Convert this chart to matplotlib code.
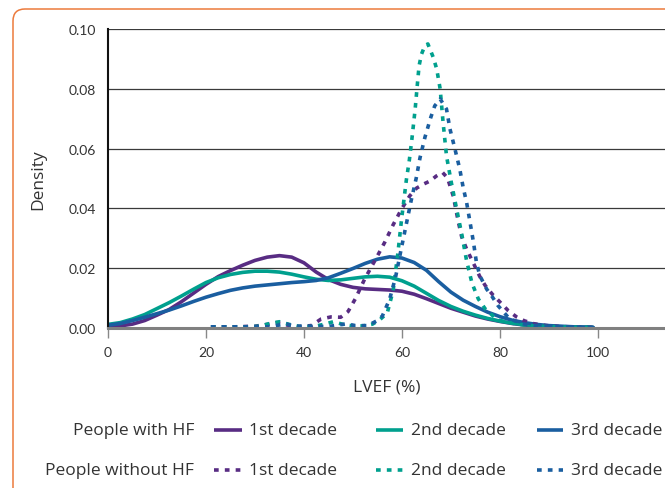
import matplotlib
matplotlib.use("Agg")
import matplotlib.pyplot as plt
from matplotlib.lines import Line2D
from matplotlib.patches import FancyBboxPatch
from matplotlib.transforms import IdentityTransform

plt.rcParams['font.family'] = ['Lato', 'DejaVu Sans']
LABEL_FONT = ['Open Sans', 'DejaVu Sans']

# ---------------- data ----------------
hf1_x = [0, 2.5, 5, 7.5, 10, 12.5, 15, 17.5, 20, 22.5, 25, 27.5, 30, 32.5, 35, 37.5, 40, 42.5, 45, 47.5,
         50, 52.5, 55, 57.5, 60, 62.5, 65, 67.5, 70, 72.5, 75, 77.5, 80, 82.5, 85, 87.5, 90, 95, 99]
hf1_y = [0.0004, 0.0007, 0.0013, 0.0025, 0.0043, 0.0062, 0.0088, 0.0117, 0.0146, 0.0172, 0.0192, 0.0210,
         0.0226, 0.0237, 0.0242, 0.0237, 0.0218, 0.0187, 0.0162, 0.0146, 0.0136, 0.0131, 0.0129, 0.0127,
         0.0123, 0.0113, 0.0098, 0.0082, 0.0066, 0.0053, 0.0040, 0.0030, 0.0022, 0.0015, 0.0010, 0.0007,
         0.0005, 0.0003, 0.0002]

hf2_x = hf1_x
hf2_y = [0.0012, 0.0018, 0.0030, 0.0045, 0.0065, 0.0085, 0.0107, 0.0130, 0.0152, 0.0168, 0.0179, 0.0186,
         0.0190, 0.0190, 0.0187, 0.0180, 0.0171, 0.0163, 0.0159, 0.0161, 0.0166, 0.0171, 0.0173, 0.0170,
         0.0158, 0.0140, 0.0116, 0.0092, 0.0072, 0.0056, 0.0043, 0.0032, 0.0023, 0.0016, 0.0011, 0.0008,
         0.0005, 0.0003, 0.0002]

hf3_x = hf1_x
hf3_y = [0.0009, 0.0015, 0.0025, 0.0036, 0.0048, 0.0060, 0.0074, 0.0089, 0.0103, 0.0115, 0.0126, 0.0134,
         0.0140, 0.0144, 0.0148, 0.0152, 0.0155, 0.0159, 0.0168, 0.0183, 0.0199, 0.0216, 0.0230, 0.0238,
         0.0234, 0.0219, 0.0193, 0.0155, 0.0120, 0.0093, 0.0072, 0.0053, 0.0038, 0.0026, 0.0018, 0.0012,
         0.0008, 0.0004, 0.0002]

nohf1_x = [21, 26, 30, 32.5, 34.5, 36.5, 39, 41.5, 43.5, 45.5, 47.5, 49, 50.5, 52.4, 54.8, 56.5, 58.2, 60,
           61.6, 63, 64.5, 65.8, 67, 68.3, 69.3, 70.5, 71.5, 72.2, 73.2, 74.2, 75.9, 77, 78.5, 80, 81.7,
           83.4, 85, 87, 89.5, 92, 96, 99]
nohf1_y = [0.0004, 0.0004, 0.0006, 0.0012, 0.0018, 0.0010, 0.0005, 0.0008, 0.0030, 0.0037, 0.0036, 0.0055,
           0.0098, 0.0164, 0.0235, 0.0287, 0.0345, 0.0400, 0.0442, 0.0468, 0.0482, 0.0492, 0.0508, 0.0520,
           0.0502, 0.0440, 0.0356, 0.0305, 0.0264, 0.0230, 0.0172, 0.0142, 0.0112, 0.0087, 0.0058, 0.0037,
           0.0024, 0.0014, 0.0008, 0.0005, 0.0003, 0.0002]

nohf2_x = [21, 28, 31, 33, 35, 37, 39, 42, 44, 46, 48, 50, 52, 54, 55.5, 57, 58.2, 59.2, 59.9, 60.9, 61.5,
           62, 62.7, 63.1, 63.5, 64, 64.7, 65.3, 66.4, 67.1, 67.8, 68.4, 69.1, 70.1, 71.2, 72.2, 73.2, 74.3,
           75.6, 77, 79.5, 83.4, 87, 92, 99]
nohf2_y = [0.0004, 0.0004, 0.0006, 0.0015, 0.0021, 0.0012, 0.0005, 0.0005, 0.0012, 0.0021, 0.0012, 0.0007,
           0.0007, 0.0013, 0.0028, 0.0050, 0.0125, 0.0254, 0.0360, 0.0495, 0.0560, 0.0627, 0.0732, 0.0806,
           0.0877, 0.0916, 0.0945, 0.0950, 0.0905, 0.0866, 0.0800, 0.0688, 0.0575, 0.0485, 0.0395, 0.0315,
           0.0225, 0.0150, 0.0097, 0.0064, 0.0027, 0.0013, 0.0007, 0.0004, 0.0002]

nohf3_x = [21, 33, 35, 36.5, 38, 45, 47, 48.7, 50.5, 53, 55, 56, 57.5, 58.7, 59.8, 60.8, 61.8, 62.9, 63.7,
           64.7, 65.9, 66.7, 67.8, 69.1, 69.8, 70.8, 71.8, 72.5, 73.2, 73.9, 74.6, 75.2, 75.9, 77.3, 78.3,
           79.6, 82, 85, 88, 92, 99]
nohf3_y = [0.0004, 0.0004, 0.0010, 0.0013, 0.0006, 0.0005, 0.0010, 0.0014, 0.0008, 0.0008, 0.0025, 0.0040,
           0.0097, 0.0170, 0.0260, 0.0340, 0.0420, 0.0500, 0.0570, 0.0638, 0.0705, 0.0743, 0.0766, 0.0732,
           0.0666, 0.0600, 0.0532, 0.0470, 0.0420, 0.0354, 0.0287, 0.0220, 0.0175, 0.0130, 0.0108, 0.0075,
           0.0030, 0.0013, 0.0007, 0.0004, 0.0002]

decade_labels = ["1st decade", "2nd decade", "3rd decade"]
group_labels = ["People with HF", "People without HF"]
x_ticks = [0, 20, 40, 60, 80, 100]
y_ticks = [0.00, 0.02, 0.04, 0.06, 0.08, 0.10]

colors = ["#582C83", "#00A08E", "#1A5EA0"]
text_color = "#333333"

# ---------------- figure ----------------
fig = plt.figure(figsize=(6.65, 4.89), dpi=100)

# orange rounded frame (cropped by figure edge)
frame = FancyBboxPatch((13, -60), 720, 539, boxstyle="round,pad=0,rounding_size=12",
                       transform=IdentityTransform(), facecolor="none", edgecolor="#EC7A3C",
                       linewidth=1.1, clip_on=False)
fig.patches.append(frame)

ax = fig.add_axes([108 / 665, 1 - 329 / 489, 1 - 108 / 665, (329 - 30) / 489])
ax.set_xlim(0, 113.7)
ax.set_ylim(0, 0.10)

for yv in y_ticks[1:]:
    ax.axhline(yv, color="#3a3a3a", linewidth=0.9, zorder=1)

solid = [(hf1_x, hf1_y), (hf2_x, hf2_y), (hf3_x, hf3_y)]
dotted = [(nohf1_x, nohf1_y), (nohf2_x, nohf2_y), (nohf3_x, nohf3_y)]
for (xs, ys), c in zip(solid, colors):
    ax.plot(xs, ys, color=c, linewidth=2.6, solid_capstyle="round", solid_joinstyle="round", zorder=3)
for (xs, ys), c in zip(dotted, colors):
    ax.plot(xs, ys, color=c, linewidth=2.6, linestyle=(0, (1.3, 1.7)), dash_capstyle="butt", zorder=4)

ax.set_xticks(x_ticks)
ax.set_yticks(y_ticks)
ax.set_yticklabels([f"{v:.2f}" for v in y_ticks])
ax.tick_params(axis="x", direction="out", length=7, width=1, color="#888888", labelsize=10,
               labelcolor=text_color, pad=6)
ax.tick_params(axis="y", length=0, labelsize=10, labelcolor=text_color, pad=9)

for s in ["top", "right"]:
    ax.spines[s].set_visible(False)
ax.spines["left"].set_color("#111111")
ax.spines["left"].set_linewidth(1.5)
ax.spines["bottom"].set_color("#808080")
ax.spines["bottom"].set_linewidth(2.2)
ax.spines["left"].set_zorder(5)
ax.spines["bottom"].set_zorder(5)

ax.set_xlabel("LVEF (%)", fontsize=12.5, color=text_color, labelpad=15, family=LABEL_FONT)
ax.set_ylabel("Density", fontsize=12.5, color=text_color, labelpad=16, family=LABEL_FONT)

# ---------------- legend ----------------
row_y = [1 - 431 / 489, 1 - 471 / 489]
handle_x = [(214, 242), (376, 403), (537, 563)]
label_x = [249, 411, 571]
styles = ["-", (0, (1.3, 1.7))]
for r, (gl, yy) in enumerate(zip(group_labels, row_y)):
    fig.text(194 / 665, yy, gl, ha="right", va="center", fontsize=12.5, color=text_color,
             family=LABEL_FONT)
    for i in range(3):
        x0, x1 = handle_x[i]
        fig.add_artist(Line2D([x0 / 665, x1 / 665], [yy, yy], transform=fig.transFigure,
                              color=colors[i], linewidth=2.6, linestyle=styles[r],
                              solid_capstyle="butt", dash_capstyle="butt"))
        fig.text(label_x[i] / 665, yy, decade_labels[i], ha="left", va="center",
                 fontsize=12.5, color=text_color, family=LABEL_FONT)

fig.savefig("out.png", dpi=100)
